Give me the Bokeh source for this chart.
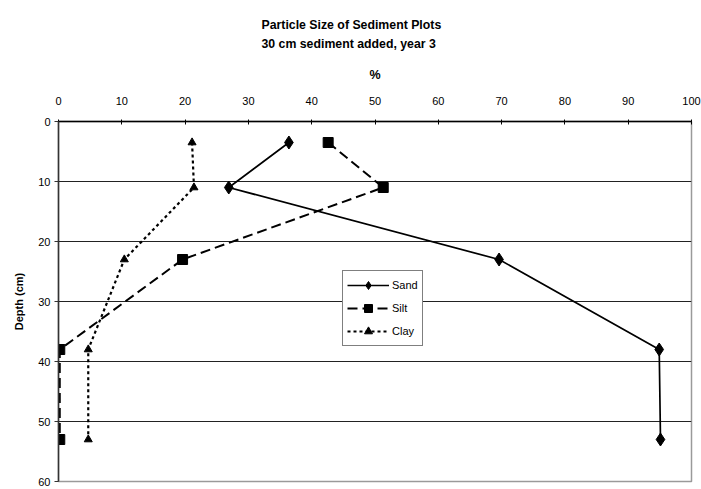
from bokeh.plotting import figure
from bokeh.models import Range1d, FixedTicker, Legend, LegendItem, ColumnDataSource
from bokeh.embed import file_html
from bokeh.resources import INLINE

# Depth of each sampling layer (cm)
depth = [3.5, 11, 23, 38, 53]

# Particle-size fractions (%) at each depth
sand = [36.4, 26.9, 69.6, 94.9, 95.1]
silt = [42.6, 51.3, 19.6, 0.2, 0.2]
clay = [21.1, 21.4, 10.4, 4.7, 4.7]

x_ticks = list(range(0, 101, 10))
y_ticks = list(range(0, 61, 10))

title_lines = ["Particle Size of Sediment Plots", "30 cm sediment added,  year 3"]

FONT = "Liberation Sans"

p = figure(
    width=701, height=489,
    x_range=Range1d(0, 100), y_range=Range1d(60, 0),
    x_axis_location="above",
    output_backend="svg", toolbar_location=None,
    min_border_left=58, min_border_right=10,
    min_border_top=121, min_border_bottom=8,
)

# Two-line heading, shifted from the frame's left edge toward the canvas centre
p.title.text = "\n".join(title_lines)
p.title.align = "left"
p.title.offset = 203
p.title.text_font = FONT
p.title.text_font_size = "12.3px"
p.title.text_font_style = "bold"
p.title.text_line_height = 1.4
p.title.text_color = "black"
p.title.standoff = 26

p.outline_line_color = "#9a9a9a"
p.outline_line_width = 1.5
p.xgrid.grid_line_color = None
p.ygrid.grid_line_color = "#222222"
p.ygrid.grid_line_width = 1

xa = p.xaxis[0]
xa.ticker = FixedTicker(ticks=x_ticks)
xa.axis_label = "%"
xa.axis_label_text_font = FONT
xa.axis_label_text_font_size = "12.5px"
xa.axis_label_text_font_style = "bold"
xa.axis_label_text_color = "black"
xa.axis_label_standoff = 12
xa.major_label_text_font = FONT
xa.major_label_text_font_size = "11px"
xa.major_label_text_color = "black"
xa.major_label_standoff = 15
xa.major_tick_in = 3
xa.major_tick_out = 2
xa.minor_tick_line_color = None
xa.axis_line_color = "black"
xa.axis_line_width = 1.5
xa.major_tick_line_color = "black"

ya = p.yaxis[0]
ya.ticker = FixedTicker(ticks=y_ticks)
ya.axis_label = "Depth (cm)"
ya.axis_label_text_font = FONT
ya.axis_label_text_font_size = "11px"
ya.axis_label_text_font_style = "bold"
ya.axis_label_text_color = "black"
ya.axis_label_standoff = 10
ya.major_label_text_font = FONT
ya.major_label_text_font_size = "11px"
ya.major_label_text_color = "black"
ya.major_label_standoff = 4
ya.major_tick_in = 0
ya.major_tick_out = 4
ya.minor_tick_line_color = None
ya.axis_line_color = "#333333"
ya.axis_line_width = 1.5
ya.major_tick_line_color = "#333333"

src = ColumnDataSource(dict(depth=depth, sand=sand, silt=silt, clay=clay))

sand_l = p.line("sand", "depth", source=src, line_color="black", line_width=1.7)
sand_m = p.scatter("sand", "depth", source=src, marker="diamond", size=13,
                   fill_color="black", line_color="black")

silt_l = p.line("silt", "depth", source=src, line_color="black", line_width=2,
                line_dash="10 5")
silt_m = p.scatter("silt", "depth", source=src, marker="square", size=10,
                   fill_color="black", line_color="black")

clay_l = p.line("clay", "depth", source=src, line_color="black", line_width=2.2,
                line_dash="3 3")
clay_m = p.scatter("clay", "depth", source=src, marker="triangle", size=8,
                   fill_color="black", line_color="black")

legend = Legend(
    items=[
        LegendItem(label="Sand", renderers=[sand_l, sand_m]),
        LegendItem(label="Silt", renderers=[silt_l, silt_m]),
        LegendItem(label="Clay", renderers=[clay_l, clay_m]),
    ],
    location=(284, 135),
    label_text_font=FONT,
    label_text_font_size="11px",
    label_text_color="black",
    label_standoff=3,
    label_height=20,
    glyph_width=42,
    glyph_height=20,
    spacing=3,
    padding=4,
    margin=0,
    border_line_color="black",
    border_line_width=1,
    background_fill_alpha=1,
)
p.add_layout(legend)

open("out.html", "w").write(file_html(p, INLINE))
